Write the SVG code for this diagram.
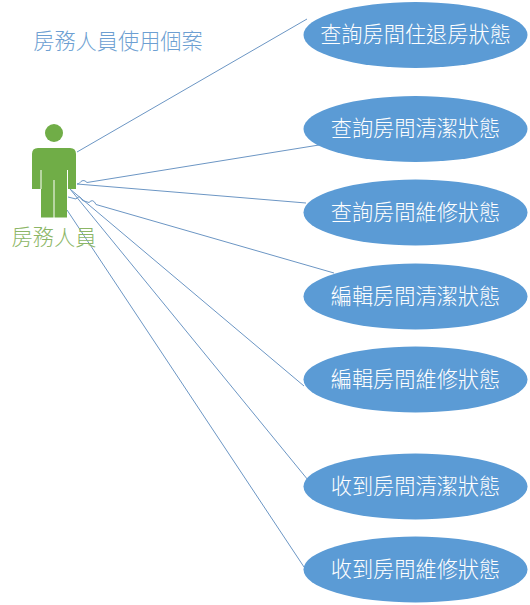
<svg xmlns="http://www.w3.org/2000/svg" width="530" height="605" viewBox="0 0 530 605">
<style>
text{font-family:"Noto Sans CJK TC","Noto Sans CJK SC",sans-serif;font-weight:300;text-anchor:middle;dominant-baseline:central}
.u ellipse{fill:#5b9bd5}
.u text{fill:#fff;font-size:21.2px}
.c path{fill:none;stroke:#6c96c4;stroke-width:1}
.g{stroke:#fff;stroke-width:1;fill:none}
</style>
<rect width="530" height="605" fill="#fff"/>
<g class="c" id="connectors">
<path d="M77 152L307 19"/>
<path d="M77 184L79 183.6Q83 178 87 182.5L319 145"/>
<path d="M77 184L306 203"/>
<path d="M68 197L76 199Q79.5 194 82.5 200.5L89 202.500Q93 198 96 204.500L334 273"/>
<path d="M70 189L304 386"/>
<path d="M70 189L308 480"/>
<path d="M67 210L304 567"/>
</g>
<g id="title"><text x="118" y="39" font-size="21.2" fill="#6d9fd2">房務人員使用個案</text></g>
<g id="actor">
<circle cx="54" cy="133" r="9" fill="#70ad47"/>
<path d="M38 148H70Q76 148 76 154V189H67V217.5H41V189H32V154Q32 148 38 148Z" fill="#70ad47"/>
<path class="g" d="M41 170V189M67.500 170V189M54 180V218"/>
<text x="54" y="235" font-size="21.2" fill="#8cb666">房務人員</text>
</g>
<g class="u" id="u1"><ellipse cx="415.500" cy="35" rx="112" ry="33"/><text x="415.500" y="32">查詢房間住退房狀態</text></g>
<g class="u" id="u2"><ellipse cx="415.500" cy="129" rx="112" ry="33"/><text x="415.500" y="126">查詢房間清潔狀態</text></g>
<g class="u" id="u3"><ellipse cx="415.500" cy="212.500" rx="112" ry="33"/><text x="415.500" y="210">查詢房間維修狀態</text></g>
<g class="u" id="u4"><ellipse cx="415.500" cy="296.500" rx="112" ry="33"/><text x="415.500" y="294">編輯房間清潔狀態</text></g>
<g class="u" id="u5"><ellipse cx="415.500" cy="379.500" rx="112" ry="33"/><text x="415.500" y="377">編輯房間維修狀態</text></g>
<g class="u" id="u6"><ellipse cx="415.500" cy="486.500" rx="112" ry="33"/><text x="415.500" y="484">收到房間清潔狀態</text></g>
<g class="u" id="u7"><ellipse cx="415.500" cy="569.500" rx="112" ry="33"/><text x="415.500" y="567">收到房間維修狀態</text></g>
</svg>
